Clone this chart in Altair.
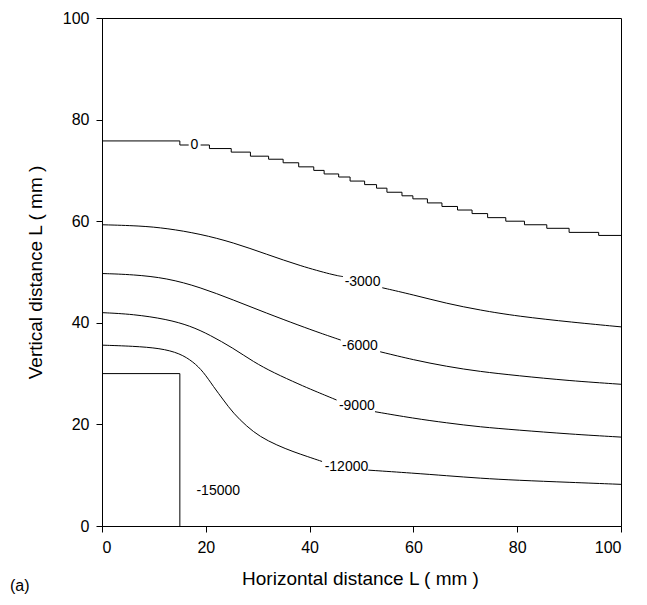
import altair as alt
import pandas as pd

# ---- data ----
# contour "0" (stepped), step start positions
c0_x_a = [0, 15.0, 16.7]
c0_y_a = [75.8, 75.0, 75.0]
c0_x_b = [19.0, 20.7, 24.9, 28.6, 32.1, 34.9, 37.9, 40.8, 42.8, 45.6, 47.8, 50.6, 52.9, 54.9,
          57.8, 59.9, 62.7, 65.5, 68.5, 71.3, 74.3, 77.8, 81.4, 85.7, 90.0, 95.7, 100]
c0_y_b = [75.0, 74.3, 73.6, 72.8, 72.2, 71.5, 70.7, 70.0, 69.3, 68.7, 67.9, 67.2, 66.5, 65.7,
          65.0, 64.4, 63.6, 62.9, 62.2, 61.5, 60.7, 60.0, 59.3, 58.6, 57.8, 57.2, 57.2]

c3000_x_a = [0, 7.3, 12.5, 18.9, 25.3, 31.7, 38.2, 44.6, 46.4]
c3000_y_a = [59.3, 59.1, 58.6, 57.5, 55.8, 53.5, 51.2, 49.4, 49.1]
c3000_x_b = [54.0, 60.0, 66.4, 72.8, 80, 90.7, 100]
c3000_y_b = [46.9, 45.5, 43.8, 42.5, 41.3, 40.1, 39.2]

c6000_x_a = [0, 6, 12.5, 18.9, 25.3, 31.7, 38.2, 42, 46.0]
c6000_y_a = [49.7, 49.5, 48.8, 47.0, 44.5, 41.9, 39.4, 38.0, 36.6]
c6000_x_b = [53.6, 60, 66.4, 72.8, 80, 90, 100]
c6000_y_b = [34.3, 32.7, 31.4, 30.4, 29.6, 28.6, 27.9]

c9000_x_a = [0, 6, 12.5, 17.0, 20.8, 25.3, 29.2, 33.0, 38.2, 40.7, 45.2]
c9000_y_a = [42.0, 41.7, 40.7, 39.4, 37.6, 35.0, 32.3, 30.2, 27.8, 26.7, 24.8]
c9000_x_b = [52.6, 60, 66.4, 72.8, 80, 90, 100]
c9000_y_b = [22.5, 21.2, 20.3, 19.5, 18.9, 18.1, 17.5]

c12000_x_a = [0, 6, 11.2, 15.0, 17.6, 19.5, 21.5, 23.4, 25.3, 27.9, 30.4, 33.7, 36.9, 39.5, 42.4]
c12000_y_a = [35.6, 35.4, 35.0, 34.0, 32.3, 30.4, 27.4, 24.8, 22.2, 19.6, 17.6, 15.9, 14.6, 13.7, 12.7]
c12000_x_b = [51.3, 60, 66.4, 72.8, 80, 90, 100]
c12000_y_b = [11.0, 10.4, 9.9, 9.4, 9.0, 8.6, 8.2]

rect_x = [0, 15, 15]
rect_y = [30, 30, 0]

label_text = ["0", "-3000", "-6000", "-9000", "-12000", "-15000"]
label_x = [17.8, 50.2, 49.7, 49.1, 47.1, 22.4]
label_y = [75.0, 48.1, 35.4, 23.6, 11.7, 6.9]

x_ticks = [0, 20, 40, 60, 80, 100]
y_ticks = [0, 20, 40, 60, 80, 100]


def seg(name, xs, ys):
    return pd.DataFrame({"x": xs, "y": ys, "seg": name, "o": range(len(xs))})


step_df = pd.concat([seg("0a", c0_x_a, c0_y_a), seg("0b", c0_x_b, c0_y_b)])
smooth_df = pd.concat([
    seg("3a", c3000_x_a, c3000_y_a), seg("3b", c3000_x_b, c3000_y_b),
    seg("6a", c6000_x_a, c6000_y_a), seg("6b", c6000_x_b, c6000_y_b),
    seg("9a", c9000_x_a, c9000_y_a), seg("9b", c9000_x_b, c9000_y_b),
    seg("12a", c12000_x_a, c12000_y_a), seg("12b", c12000_x_b, c12000_y_b),
])
rect_df = seg("r", rect_x, rect_y)
lab_df = pd.DataFrame({"x": label_x, "y": label_y, "t": label_text})

FONT = "Liberation Sans"

xs = alt.Scale(domain=[0, 100], nice=False)
ys = alt.Scale(domain=[0, 100], nice=False)

xenc = alt.X("x:Q", scale=xs, axis=alt.Axis(
    values=x_ticks, title="Horizontal distance L ( mm )", grid=False,
    titleX=258, titleY=52, titleBaseline="middle", titleAnchor="middle"))
yenc = alt.Y("y:Q", scale=ys, axis=alt.Axis(
    values=y_ticks, title="Vertical distance L ( mm )", grid=False,
    titleX=-67, titleY=254, titleAngle=-90, titleBaseline="middle", titleAlign="center"))

step = alt.Chart(step_df).mark_line(
    interpolate="step-after", color="black", strokeWidth=1).encode(
    x=xenc, y=yenc, detail="seg:N", order="o:Q")
smooth = alt.Chart(smooth_df).mark_line(
    interpolate="basis", color="black", strokeWidth=1).encode(
    x="x:Q", y="y:Q", detail="seg:N", order="o:Q")
rect = alt.Chart(rect_df).mark_line(color="black", strokeWidth=1).encode(
    x="x:Q", y="y:Q", order="o:Q")
labels = alt.Chart(lab_df).mark_text(
    font=FONT, fontSize=14, color="black", align="center", baseline="middle").encode(
    x="x:Q", y="y:Q", text="t:N")

chart = alt.layer(step, smooth, rect, labels).properties(
    width=519, height=508,
    autosize=alt.AutoSizeParams(type="none"),
    padding={"left": 94, "top": 10, "right": 18, "bottom": 70},
    title=alt.TitleParams("(a)", orient="bottom", anchor="start", frame="group",
                          dx=-92, dy=-26, offset=16, font=FONT, fontSize=16,
                          fontWeight="normal", color="black"),
).configure_view(stroke="black", strokeWidth=1).configure_axis(
    domainColor="black", tickColor="black", tickSize=6, labelColor="black",
    titleColor="black", labelFont=FONT, titleFont=FONT, labelFontSize=16,
    titleFontSize=19, titleFontWeight="normal", labelPadding=7,
)

chart.save("out.html", embed_options={"renderer": "svg", "actions": False})
